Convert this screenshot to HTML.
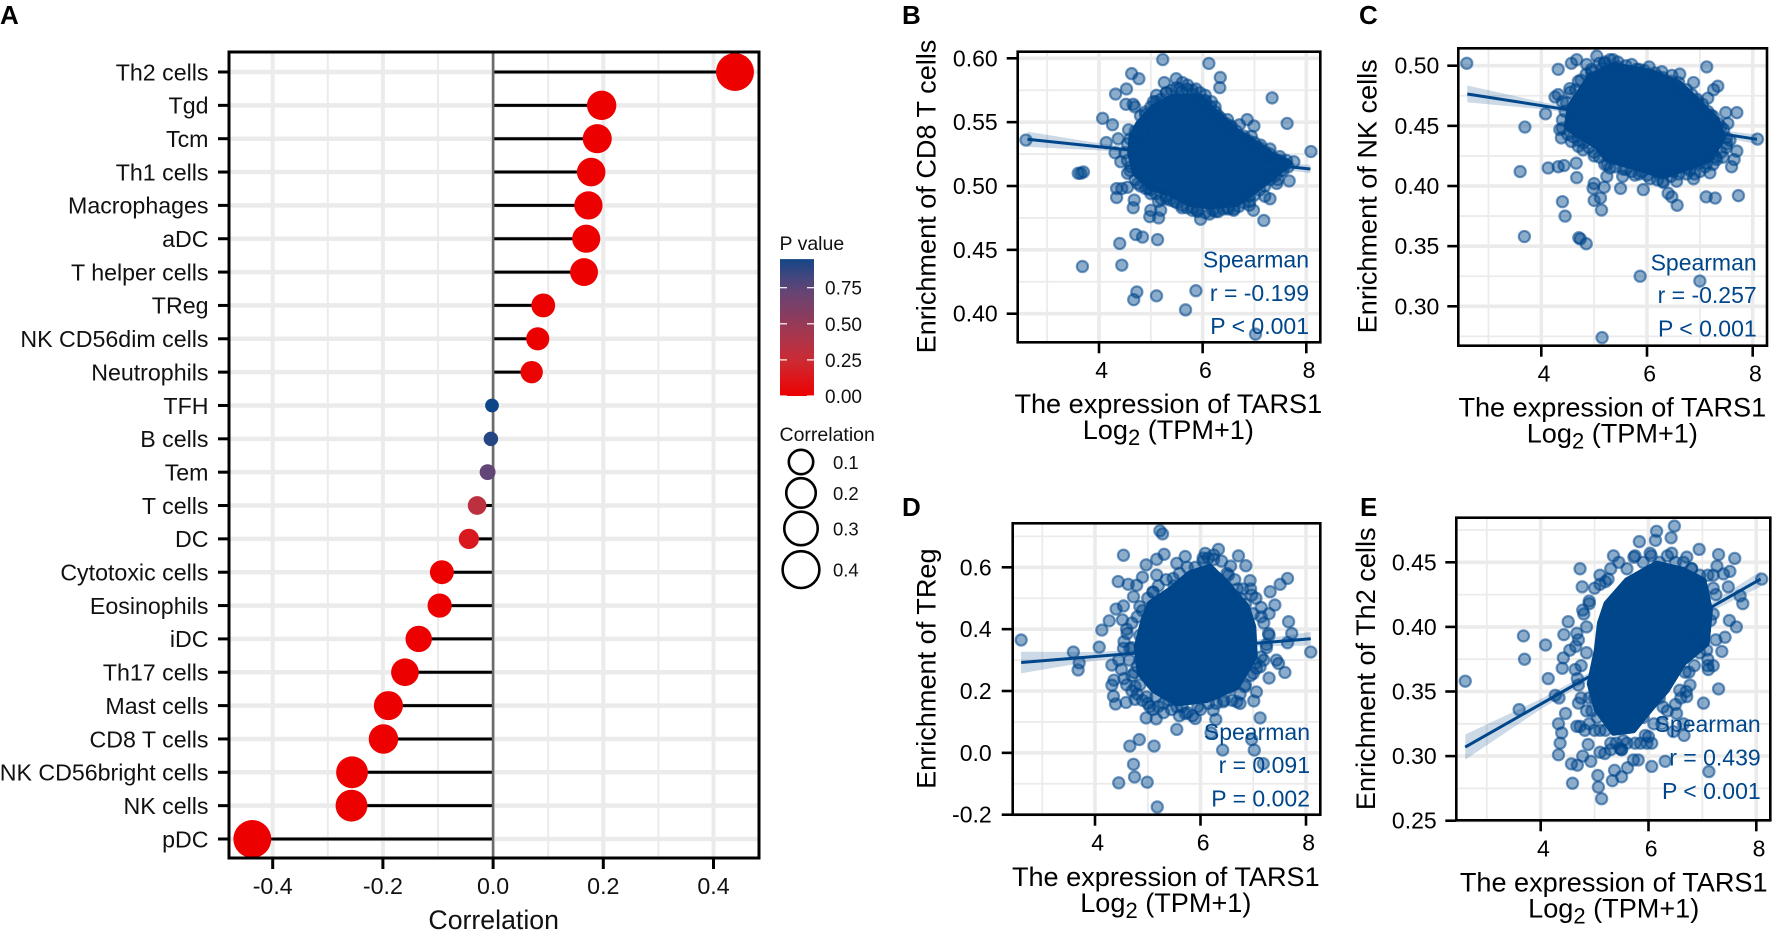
<!DOCTYPE html>
<html lang="en">
<head>
<meta charset="utf-8">
<title>TARS1 immune infiltration correlation figure</title>
<style>
html,body{margin:0;padding:0;background:#fff;width:1772px;height:930px;overflow:hidden}
svg{display:block;font-family:"Liberation Sans",Arial,sans-serif}
</style>
</head>
<body>
<svg id="figure" xmlns="http://www.w3.org/2000/svg" width="1772" height="930" viewBox="0 0 1772 930"></svg>
<script>
// ---------- Panel A data ----------
const cellTypes = ["Th2 cells","Tgd","Tcm","Th1 cells","Macrophages","aDC","T helper cells","TReg","NK CD56dim cells","Neutrophils","TFH","B cells","Tem","T cells","DC","Cytotoxic cells","Eosinophils","iDC","Th17 cells","Mast cells","CD8 T cells","NK CD56bright cells","NK cells","pDC"];
const correlations = [0.439,0.197,0.189,0.178,0.173,0.169,0.165,0.091,0.081,0.070,-0.002,-0.004,-0.010,-0.029,-0.044,-0.093,-0.097,-0.135,-0.160,-0.190,-0.199,-0.256,-0.257,-0.437];
const pValues = [0,0,0,0,0,0,0,0.002,0.005,0.02,0.96,0.90,0.74,0.32,0.14,0.001,0.001,0,0,0,0,0,0,0];
const corrTicks = [-0.4,-0.2,0,0.2,0.4];
const corrTickLabels = ["-0.4","-0.2","0.0","0.2","0.4"];
const corrMinorTicks = [-0.3,-0.1,0.1,0.3];
const pLegendTicks = [0,0.25,0.5,0.75];
const pLegendLabels = ["0.00","0.25","0.50","0.75"];
const sizeLegendValues = [0.1,0.2,0.3,0.4];
const sizeLegendLabels = ["0.1","0.2","0.3","0.4"];

// ---------- Panel B data (CD8 T cells) ----------
const bPointsX = [2.59,3.60,3.70,3.65,3.68,4.44,4.40,4.71,4.84,5.13,4.73,4.67,5.11,5.87,5.67,7.02,5.23,6.12,6.34,6.33,7.34,7.63,8.09,7.67,4.63,4.77,4.53,4.32,4.52,4.66,4.69,4.07,4.26,4.14,4.31,4.37,4.57,4.42,4.55,4.34,4.44,4.55,4.34,4.68,4.66,4.98,5.00,5.15,5.19,5.15,5.26,5.49,5.61,5.71,5.87,6.05,5.11,6.17,6.24,6.48,6.71,6.86,6.99,6.94,7.12,7.30,7.49,7.62,7.76,7.65,7.43,7.30,7.18,6.98,6.91,6.48,6.40,6.13,5.96,5.82,5.50,5.37,4.95,4.85,4.70,4.62,4.75,4.90,5.05,5.30,5.55,5.80,6.05,6.30,6.55,6.80,7.05,7.25,7.45,7.55,7.20,6.90,6.60,6.25,5.90,5.60,5.30,5.00];
const bPointsY = [0.536,0.510,0.511,0.510,0.437,0.438,0.455,0.462,0.460,0.458,0.417,0.411,0.414,0.418,0.403,0.384,0.599,0.596,0.585,0.577,0.569,0.549,0.527,0.504,0.588,0.584,0.576,0.572,0.564,0.564,0.562,0.553,0.548,0.534,0.526,0.537,0.544,0.519,0.510,0.498,0.498,0.499,0.491,0.489,0.483,0.476,0.481,0.475,0.481,0.488,0.581,0.584,0.581,0.579,0.576,0.571,0.571,0.566,0.562,0.552,0.548,0.552,0.547,0.539,0.532,0.529,0.523,0.520,0.519,0.515,0.502,0.490,0.473,0.481,0.488,0.483,0.482,0.478,0.474,0.483,0.487,0.489,0.498,0.541,0.530,0.515,0.502,0.556,0.566,0.573,0.576,0.575,0.567,0.555,0.546,0.537,0.530,0.515,0.505,0.512,0.492,0.485,0.481,0.480,0.480,0.483,0.490,0.494];
const bEdgeX = [4.80,4.90,5.00,5.10,5.20,5.30,5.40,5.50,5.60,5.70,5.80,5.95,6.05,6.15,6.25,6.35,6.45,6.55,6.65,6.80,6.90,7.00,7.10,7.20,7.30,7.40,7.50,7.60,7.50,7.40,7.30,7.20,7.10,7.00,6.90,6.80,6.70,6.60,6.50,6.30,6.20,6.05,5.90,5.80,5.70,5.60,5.45,5.30,5.20,5.10,5.00,4.90,4.80,4.70,4.60,4.55,4.50,4.55,4.60,4.70];
const bEdgeY = [0.555,0.558,0.562,0.566,0.568,0.573,0.575,0.577,0.574,0.576,0.572,0.573,0.566,0.562,0.558,0.553,0.549,0.547,0.543,0.539,0.535,0.534,0.530,0.527,0.525,0.521,0.520,0.517,0.512,0.508,0.505,0.500,0.497,0.493,0.492,0.487,0.484,0.482,0.482,0.480,0.481,0.479,0.481,0.481,0.483,0.485,0.488,0.492,0.490,0.494,0.497,0.498,0.500,0.505,0.512,0.520,0.526,0.533,0.537,0.543];
const bCoreX = [4.76,5.05,5.43,5.95,6.27,6.66,7.04,7.36,7.68,7.36,7.04,6.66,6.14,5.76,5.37,4.98,4.69,4.60,4.63];
const bCoreY = [0.549,0.562,0.570,0.570,0.557,0.543,0.533,0.524,0.518,0.507,0.497,0.486,0.484,0.486,0.494,0.499,0.510,0.526,0.539];
const bLineX = [2.62,8.08];
const bLineY = [0.5366,0.5133];
const bBandX = [2.62,4,5.8,7,8.08];
const bBandHi = [0.5426,0.5335,0.5245,0.5200,0.5165];
const bBandLo = [0.5306,0.5279,0.5215,0.5158,0.5100];
const bYTicks = [0.40,0.45,0.50,0.55,0.60];
const bYLabels = ["0.40","0.45","0.50","0.55","0.60"];
const bYMinor = [0.425,0.475,0.525,0.575];

// ---------- Panel C data (NK cells) ----------
const cPointsX = [2.59,3.60,3.69,3.68,4.08,4.13,4.32,4.43,4.66,4.67,4.40,4.45,4.71,4.74,4.85,5.00,4.98,5.19,5.00,5.12,5.14,5.87,7.00,5.15,7.13,7.34,7.26,7.15,7.49,7.70,7.53,8.09,7.70,7.65,7.60,7.73,7.29,7.12,6.57,6.47,6.40,6.56,6.31,6.06,5.93,5.50,5.54,5.77,5.24,4.32,4.57,4.67,4.86,5.05,5.36,5.71,6.04,6.28,6.47,6.62,6.88,4.26,4.32,4.54,4.70,4.35,4.38,4.57,4.79,4.70,4.48,7.19,6.88,7.32,7.51,7.44,7.13,7.57,6.81,4.60,4.75,4.95,5.15,5.30,5.00,5.25,5.60,5.90,6.20,6.50,6.75,7.00,7.25,7.40,7.20,6.95,6.60,6.20,5.85,5.45,5.20,4.95];
const cPointsY = [0.502,0.412,0.449,0.358,0.460,0.415,0.416,0.417,0.419,0.407,0.387,0.375,0.357,0.356,0.352,0.402,0.398,0.399,0.388,0.390,0.380,0.325,0.321,0.274,0.499,0.483,0.480,0.473,0.461,0.461,0.452,0.439,0.429,0.422,0.416,0.392,0.390,0.391,0.384,0.391,0.394,0.404,0.403,0.406,0.397,0.398,0.408,0.409,0.408,0.497,0.502,0.505,0.501,0.508,0.505,0.501,0.499,0.495,0.492,0.493,0.486,0.474,0.476,0.481,0.487,0.447,0.440,0.437,0.430,0.433,0.469,0.411,0.406,0.422,0.435,0.424,0.419,0.438,0.413,0.455,0.470,0.490,0.498,0.440,0.425,0.418,0.414,0.412,0.411,0.412,0.415,0.419,0.428,0.449,0.459,0.470,0.480,0.491,0.497,0.499,0.502,0.495];
const cEdgeX = [4.55,4.65,4.75,4.85,4.95,5.10,5.20,5.30,5.45,5.60,5.80,5.95,6.15,6.30,6.45,6.60,6.75,6.85,6.95,7.05,7.15,7.25,7.35,7.45,7.50,7.50,7.40,7.30,7.25,7.10,7.00,6.90,6.75,6.60,6.45,6.30,6.20,6.00,5.85,5.70,5.55,5.40,5.30,5.20,5.10,5.00,4.90,4.80,4.70,4.60,4.50,4.40,4.40,4.45,4.40];
const cEdgeY = [0.478,0.480,0.488,0.493,0.497,0.502,0.503,0.505,0.503,0.500,0.497,0.496,0.494,0.490,0.487,0.486,0.480,0.476,0.472,0.468,0.462,0.458,0.452,0.447,0.440,0.432,0.428,0.424,0.418,0.416,0.412,0.410,0.410,0.410,0.408,0.404,0.405,0.409,0.410,0.412,0.414,0.416,0.415,0.418,0.424,0.428,0.432,0.436,0.438,0.441,0.443,0.448,0.455,0.462,0.470];
const cCoreX = [4.92,5.36,6.06,6.62,6.94,7.32,7.44,7.19,6.81,6.31,5.74,5.24,5.05,4.73,4.48,4.54];
const cCoreY = [0.491,0.5005,0.495,0.485,0.4715,0.455,0.441,0.422,0.416,0.408,0.416,0.422,0.433,0.441,0.449,0.466];
const cLineX = [2.60,8.08];
const cLineY = [0.4765,0.4388];
const cBandX = [2.60,4,5.8,7,8.08];
const cBandHi = [0.4835,0.4699,0.4560,0.4482,0.4428];
const cBandLo = [0.4695,0.4639,0.4530,0.4442,0.4348];
const cYTicks = [0.30,0.35,0.40,0.45,0.50];
const cYLabels = ["0.30","0.35","0.40","0.45","0.50"];
const cYMinor = [0.275,0.325,0.375,0.425,0.475];

// ---------- Panel D data (TReg) ----------
const dPointsX = [2.60,3.59,3.70,3.68,4.08,4.13,4.27,4.40,4.54,4.54,4.44,4.63,4.79,4.90,4.97,5.17,5.31,5.23,5.28,4.73,4.85,4.52,4.61,4.54,4.66,4.32,4.36,4.32,4.35,4.39,4.59,4.76,4.76,4.97,5.16,5.55,4.84,4.66,5.12,4.73,4.75,4.45,4.99,5.18,6.20,6.42,6.97,7.02,7.19,7.13,7.06,7.01,6.75,6.43,6.24,6.29,5.90,5.71,7.30,7.60,7.48,8.09,7.65,7.73,7.67,7.41,7.32,7.51,7.65,6.94,6.86,6.72,6.57,6.34,6.09,5.71,5.55,6.53,6.97,5.48,5.17,7.29,7.06,7.13,7.00,7.44,6.84,6.69,4.98,5.04,5.30,5.55,4.85,4.95,5.10,6.05,6.25,6.70,6.85,7.15,7.25,7.20,4.70,4.80];
const dPointsY = [0.365,0.326,0.291,0.268,0.342,0.397,0.427,0.465,0.475,0.639,0.554,0.545,0.542,0.568,0.608,0.626,0.642,0.718,0.708,0.505,0.473,0.430,0.386,0.338,0.338,0.284,0.235,0.219,0.183,0.158,0.163,0.173,0.214,0.113,0.110,0.076,0.043,0.022,0.022,-0.037,-0.078,-0.097,-0.095,-0.175,0.065,0.009,0.043,0.009,-0.035,0.113,0.197,0.168,0.160,0.165,0.138,0.108,0.111,0.127,0.242,0.260,0.289,0.326,0.356,0.386,0.424,0.478,0.521,0.545,0.564,0.557,0.605,0.637,0.604,0.658,0.645,0.635,0.613,0.575,0.510,0.564,0.575,0.386,0.273,0.278,0.257,0.300,0.214,0.165,0.181,0.149,0.160,0.149,0.300,0.400,0.520,0.630,0.625,0.530,0.480,0.440,0.350,0.300,0.250,0.280];
const dEdgeX = [4.45,4.50,4.55,4.60,4.70,4.80,4.90,5.00,5.10,5.20,5.30,5.45,5.60,5.75,5.85,6.00,6.15,6.30,6.45,6.60,6.75,6.85,6.95,7.05,7.15,7.25,7.30,7.20,7.30,7.15,7.05,6.95,6.80,6.65,6.50,6.40,6.25,6.15,6.05,5.90,5.75,5.60,5.50,5.35,5.20,5.10,5.00,4.90,4.80,4.70,4.60,4.55,4.65,4.70,4.75,4.85,4.95,4.85,5.15,5.40,5.65,5.95,6.25,6.55,6.90,7.00,6.75,6.35];
const dEdgeY = [0.30,0.27,0.24,0.22,0.20,0.19,0.17,0.16,0.14,0.15,0.13,0.14,0.12,0.13,0.12,0.14,0.16,0.16,0.17,0.17,0.19,0.22,0.25,0.29,0.31,0.34,0.38,0.42,0.45,0.47,0.50,0.53,0.53,0.56,0.58,0.62,0.64,0.63,0.62,0.60,0.60,0.58,0.54,0.56,0.54,0.52,0.50,0.46,0.44,0.42,0.40,0.36,0.30,0.34,0.26,0.22,0.28,0.38,0.18,0.17,0.15,0.15,0.19,0.21,0.30,0.45,0.50,0.56];
const dCoreX = [5.04,5.42,5.80,6.18,6.50,6.88,7.00,7.03,6.69,6.12,5.55,5.11,4.85,4.79,4.92];
const dCoreY = [0.483,0.527,0.581,0.602,0.548,0.473,0.408,0.311,0.214,0.171,0.160,0.203,0.257,0.343,0.429];
const dLineX = [2.60,8.09];
const dLineY = [0.292,0.369];
const dBandX = [2.60,4,5.8,7,8.09];
const dBandHi = [0.327,0.326,0.343,0.364,0.391];
const dBandLo = [0.257,0.298,0.331,0.344,0.347];
const dYTicks = [-0.2,0,0.2,0.4,0.6];
const dYLabels = ["-0.2","0.0","0.2","0.4","0.6"];
const dYMinor = [-0.1,0.1,0.3,0.5,0.7];

// ---------- Panel E data (Th2 cells) ----------
const ePointsX = [2.60,3.60,3.68,3.70,4.09,4.14,4.27,4.34,4.46,4.33,4.39,4.36,4.33,4.57,4.68,4.59,4.78,4.93,5.06,5.07,5.13,5.33,5.50,5.61,5.37,5.19,5.10,6.06,5.81,5.72,6.31,7.12,7.02,7.30,7.11,7.36,7.42,7.63,7.50,7.75,7.70,8.10,7.48,7.39,7.51,7.60,7.27,7.30,6.94,6.71,6.48,6.42,6.15,6.13,5.83,6.43,6.03,5.73,5.35,5.25,5.10,4.73,4.77,4.90,4.78,4.85,4.51,4.43,4.67,4.54,4.42,4.40,4.64,4.68,4.70,4.67,4.73,4.82,4.88,6.66,6.65,6.46,6.71,6.58,6.77,6.68,5.94,6.06,5.97,5.53,5.47,6.27,6.52,7.08,5.05,5.30,5.50,5.00,4.90,5.90,6.20,6.55,6.85,7.15,7.25,7.20,7.10,6.95,6.80];
const ePointsY = [0.358,0.336,0.393,0.375,0.386,0.360,0.347,0.345,0.333,0.325,0.318,0.310,0.301,0.294,0.293,0.279,0.300,0.296,0.285,0.276,0.267,0.281,0.284,0.291,0.289,0.302,0.303,0.292,0.297,0.297,0.296,0.288,0.341,0.352,0.367,0.381,0.392,0.400,0.405,0.418,0.424,0.437,0.431,0.441,0.443,0.453,0.447,0.456,0.460,0.454,0.478,0.469,0.474,0.467,0.466,0.457,0.457,0.454,0.455,0.437,0.433,0.445,0.431,0.418,0.413,0.400,0.404,0.394,0.395,0.382,0.376,0.368,0.367,0.360,0.341,0.323,0.323,0.320,0.309,0.316,0.325,0.319,0.346,0.351,0.355,0.365,0.316,0.310,0.310,0.312,0.306,0.338,0.333,0.382,0.330,0.310,0.305,0.345,0.345,0.330,0.345,0.395,0.395,0.405,0.425,0.440,0.375,0.390,0.445];
const eEdgeX = [4.70,4.80,4.85,4.90,5.00,5.10,5.20,5.30,5.45,5.60,5.75,5.90,6.05,6.20,6.35,6.50,6.65,6.80,6.95,7.10,7.20,7.20,7.25,7.20,7.10,6.95,6.85,6.75,6.70,6.60,6.50,6.35,6.25,6.10,6.00,5.85,5.75,5.60,5.50,5.40,5.30,5.20,5.10,5.00,4.90,4.85,4.75,4.70,4.75,4.95,4.65];
const eEdgeY = [0.390,0.410,0.380,0.420,0.430,0.440,0.435,0.445,0.450,0.445,0.455,0.450,0.455,0.450,0.455,0.450,0.450,0.445,0.440,0.440,0.430,0.410,0.390,0.370,0.370,0.380,0.370,0.365,0.350,0.345,0.340,0.335,0.325,0.325,0.315,0.310,0.310,0.310,0.305,0.310,0.305,0.320,0.320,0.320,0.325,0.335,0.345,0.355,0.370,0.335,0.385];
const eCoreX = [5.22,5.60,6.15,6.65,7.02,7.14,7.08,6.65,6.34,6.03,5.72,5.35,5.04,4.91,5.04,5.10];
const eCoreY = [0.418,0.436,0.449,0.444,0.436,0.413,0.387,0.372,0.351,0.336,0.320,0.318,0.336,0.356,0.382,0.403];
const eLineX = [2.60,8.08];
const eLineY = [0.307,0.437];
const eBandX = [2.60,4,5.8,7,8.08];
const eBandHi = [0.3167,0.3442,0.3849,0.4144,0.4430];
const eBandLo = [0.2973,0.3362,0.3809,0.4084,0.4310];
const eYTicks = [0.25,0.30,0.35,0.40,0.45];
const eYLabels = ["0.25","0.30","0.35","0.40","0.45"];
const eYMinor = [0.275,0.325,0.375,0.425,0.475];

// ---------- Shared scatter axis values ----------
const exprTicks = [4,6,8];
const exprTickLabels = ["4","6","8"];
const exprMinor = [3,5,7];

const NS = "http://www.w3.org/2000/svg";
const svg = document.getElementById("figure");
const BLUE = "#00468B";
const GRID = "#ebebeb";

function add(parent, tag, attrs, txt) {
  const el = document.createElementNS(NS, tag);
  for (const k in attrs) el.setAttribute(k, attrs[k]);
  if (txt !== undefined) el.textContent = txt;
  parent.appendChild(el);
  return el;
}
function linear(d0, d1, r0, r1) {
  return v => r0 + (v - d0) * (r1 - r0) / (d1 - d0);
}
function hex(c){return [parseInt(c.slice(1,3),16),parseInt(c.slice(3,5),16),parseInt(c.slice(5,7),16)];}
const pRamp = ["#ED0000","#CB2C35","#973A58","#5F4678","#00468B"];
function pColor(p) {
  const t = Math.max(0, Math.min(0.9999, p)) * 4;
  const i = Math.floor(t), f = t - i;
  const a = hex(pRamp[i]), b = hex(pRamp[i + 1]);
  return "rgb(" + a.map((v, k) => Math.round(v + (b[k] - v) * f)).join(",") + ")";
}
function sizeRadius(c) { return 6 + 19.6 * Math.sqrt(Math.abs(c)); }

// ---------- Panel letters ----------
const panelLetters = [["A",0,24],["B",902,24],["C",1359,24],["D",902,516],["E",1360,516]];
panelLetters.forEach(l => {
  const el = add(svg, "text", {x:l[1], y:l[2], "font-size":26, "font-weight":"bold", fill:"#000"}, l[0]);
  
  
});

// ---------- Panel A ----------
(function () {
  const L = 229, R = 759, T = 52, B = 858;
  const g = add(svg, "g", {});
  
  
  const x = linear(-0.4, 0.4, 272.7, 713.5);
  const y = linear(0, cellTypes.length - 1, 72, 839);

  corrMinorTicks.forEach(v => {
    const el = add(g, "line", {x1:x(v), x2:x(v), y1:T, y2:B, stroke:GRID, "stroke-width":2});
    
    
  });
  corrTicks.forEach(v => {
    const el = add(g, "line", {x1:x(v), x2:x(v), y1:T, y2:B, stroke:GRID, "stroke-width":4});
    
    
  });
  cellTypes.forEach((n, i) => {
    const el = add(g, "line", {x1:L, x2:R, y1:y(i), y2:y(i), stroke:GRID, "stroke-width":4.5});
    
    
  });
  cellTypes.forEach((n, i) => {
    const seg = add(g, "line", {x1:x(0), x2:x(correlations[i]), y1:y(i), y2:y(i), stroke:"#000", "stroke-width":3});
    
    
  });
  const zero = add(g, "line", {x1:x(0), x2:x(0), y1:T, y2:B, stroke:"#6b6b6b", "stroke-width":2.5});
  
  
  cellTypes.forEach((n, i) => {
    const dot = add(g, "circle", {cx:x(correlations[i]), cy:y(i), r:sizeRadius(correlations[i]), fill:pColor(pValues[i])});
    
    
    const tick = add(g, "line", {x1:L - 11, x2:L, y1:y(i), y2:y(i), stroke:"#000", "stroke-width":3});
    
    
    const lab = add(g, "text", {x:208.5, y:y(i) + 8.3, "text-anchor":"end", "font-size":23.2, fill:"#111"}, n);
    
    
  });
  corrTicks.forEach((v, i) => {
    const tick = add(g, "line", {x1:x(v), x2:x(v), y1:B, y2:B + 11, stroke:"#000", "stroke-width":3});
    
    
    const lab = add(g, "text", {x:x(v), y:894, "text-anchor":"middle", "font-size":23.2, fill:"#111"}, corrTickLabels[i]);
    
    
  });
  const border = add(g, "rect", {x:L, y:T, width:R - L, height:B - T, fill:"none", stroke:"#000", "stroke-width":3});
  
  
  const title = add(g, "text", {x:493.7, y:929, "text-anchor":"middle", "font-size":26.7, fill:"#111"}, "Correlation");
  
  
})();

// ---------- Legends ----------
(function () {
  const g = add(svg, "g", {});
  
  
  const defs = add(g, "defs", {});
  const grad = add(defs, "linearGradient", {id:"pGrad", x1:0, x2:0, y1:1, y2:0});
  const topP = 0.948;
  [0,0.125,0.25,0.375,0.5,0.625,0.75,0.875,1].forEach(f => {
    add(grad, "stop", {offset:f, "stop-color":pColor(f * topP)});
  });
  const py = linear(0, 0.75, 396, 287.7);
  const t1 = add(g, "text", {x:779.5, y:250, "font-size":19.5, fill:"#111"}, "P value");
  
  
  const bar = add(g, "rect", {x:780, y:py(topP), width:34, height:py(0) - py(topP), fill:"url(#pGrad)"});
  
  
  pLegendTicks.forEach((v, i) => {
    const a = add(g, "line", {x1:780, x2:787, y1:py(v), y2:py(v), stroke:"#fff", "stroke-width":1.2});
    
    
    const b = add(g, "line", {x1:807, x2:814, y1:py(v), y2:py(v), stroke:"#fff", "stroke-width":1.2});
    
    
    const lab = add(g, "text", {x:825, y:py(v) + 7, "font-size":19, fill:"#111"}, pLegendLabels[i]);
    
    
  });
  const t2 = add(g, "text", {x:779.5, y:441, "font-size":19.5, fill:"#111"}, "Correlation");
  
  
  let cy = 462;
  const keyGaps = [4, 4, 6];
  sizeLegendValues.forEach((v, i) => {
    const r = sizeRadius(v);
    if (i > 0) cy += sizeRadius(sizeLegendValues[i - 1]) + r + keyGaps[i - 1];
    const c = add(g, "circle", {cx:801, cy:cy, r:r, fill:"none", stroke:"#000", "stroke-width":2.6});
    
    
    const lab = add(g, "text", {x:833, y:cy + 7, "font-size":18.5, fill:"#111"}, sizeLegendLabels[i]);
    
    
  });
})();

// ---------- Scatter panels ----------
function drawScatter(p) {
  const g = add(svg, "g", {});
  
  
  const x = linear(4, 8, p.x4, p.x8);
  const y = linear(p.yTicks[0], p.yTicks[4], p.yLow, p.yHigh);

  p.xMinor.forEach(v => {
    const el = add(g, "line", {x1:x(v), x2:x(v), y1:p.T, y2:p.B, stroke:GRID, "stroke-width":1.8});
    
    
  });
  p.yMinor.forEach(v => {
    if (y(v) < p.T || y(v) > p.B) return;
    const el = add(g, "line", {x1:p.L, x2:p.R, y1:y(v), y2:y(v), stroke:GRID, "stroke-width":1.8});
    
    
  });
  p.xTicks.forEach(v => {
    const el = add(g, "line", {x1:x(v), x2:x(v), y1:p.T, y2:p.B, stroke:GRID, "stroke-width":3.6});
    
    
  });
  p.yTicks.forEach(v => {
    const el = add(g, "line", {x1:p.L, x2:p.R, y1:y(v), y2:y(v), stroke:GRID, "stroke-width":3.6});
    
    
  });

  const upper = p.bandX.map((v, i) => x(v).toFixed(1) + "," + y(p.bandHi[i]).toFixed(1));
  const lower = p.bandX.map((v, i) => x(v).toFixed(1) + "," + y(p.bandLo[i]).toFixed(1)).reverse();
  const band = add(g, "polygon", {points:upper.concat(lower).join(" "), fill:BLUE, "fill-opacity":0.2});
  
  

  const core = add(g, "polygon", {points:p.coreX.map((v, i) => x(v).toFixed(1) + "," + y(p.coreY[i]).toFixed(1)).join(" "), fill:BLUE, stroke:BLUE, "stroke-width":6, "stroke-linejoin":"round"});
  
  

  p.ptsX.forEach((v, i) => {
    const c = add(g, "circle", {cx:x(v), cy:y(p.ptsY[i]), r:5.6, fill:BLUE, "fill-opacity":0.45, stroke:BLUE, "stroke-opacity":0.55, "stroke-width":2.2});
    
    
  });

  const fit = add(g, "line", {x1:x(p.lineX[0]), y1:y(p.lineY[0]), x2:x(p.lineX[1]), y2:y(p.lineY[1]), stroke:BLUE, "stroke-width":3});
  
  

  const border = add(g, "rect", {x:p.L, y:p.T, width:p.R - p.L, height:p.B - p.T, fill:"none", stroke:"#000", "stroke-width":2.6});
  
  

  p.xTicks.forEach((v, i) => {
    const t = add(g, "line", {x1:x(v), x2:x(v), y1:p.B, y2:p.B + 11, stroke:"#000", "stroke-width":2.6});
    
    
    const l = add(g, "text", {x:x(v) + 2.7, y:p.xLabelY, "text-anchor":"middle", "font-size":23, fill:"#000"}, p.xLabels[i]);
    
    
  });
  p.yTicks.forEach((v, i) => {
    const t = add(g, "line", {x1:p.L - 11, x2:p.L, y1:y(v), y2:y(v), stroke:"#000", "stroke-width":2.6});
    
    
    const l = add(g, "text", {x:p.yLabelX, y:y(v) + 8, "text-anchor":"end", "font-size":23, fill:"#000"}, p.yLabels[i]);
    
    
  });

  const yt = add(g, "text", {transform:"translate(" + p.yTitleX + "," + p.yTitleY + ") rotate(-90)", "text-anchor":"middle", "font-size":27.1, fill:"#000"}, p.yTitle);
  
  
  const xt = add(g, "text", {x:p.xTitleX, y:p.xTitleY, "text-anchor":"middle", "font-size":27.1, fill:"#000"}, "The expression of TARS1");
  
  
  const xu = add(g, "text", {x:p.xTitleX, y:p.xTitleY + 26, "text-anchor":"middle", "font-size":27.1, fill:"#000"});
  
  
  add(xu, "tspan", {}, "Log");
  add(xu, "tspan", {dy:6, "font-size":22}, "2");
  add(xu, "tspan", {dy:-6}, " (TPM+1)");

  p.notes.forEach((s, i) => {
    const n = add(g, "text", {x:p.noteX, y:p.noteY[i], "text-anchor":"end", "font-size":23, fill:BLUE}, s);
    
    
  });
}

drawScatter({name:"scatter-panel-cd8", L:1017.7, R:1320.3, T:51.7, B:342.3, x4:1099, x8:1306.3, yLow:313.7, yHigh:58.3,
  xTicks:exprTicks, xLabels:exprTickLabels, xMinor:exprMinor, yTicks:bYTicks, yLabels:bYLabels, yMinor:bYMinor,
  ptsX:bPointsX.concat(bEdgeX), ptsY:bPointsY.concat(bEdgeY), coreX:bCoreX, coreY:bCoreY, lineX:bLineX, lineY:bLineY, bandX:bBandX, bandHi:bBandHi, bandLo:bBandLo,
  xLabelY:378, yLabelX:997.7, yTitle:"Enrichment of CD8 T cells", yTitleX:935.7, yTitleY:196.5, xTitleX:1168.3, xTitleY:413,
  notes:["Spearman","r = -0.199","P < 0.001"], noteX:1309, noteY:[267.7,301,334]});

drawScatter({name:"scatter-panel-nk", L:1458.3, R:1767, T:48.3, B:345.7, x4:1541.3, x8:1752.7, yLow:306.3, yHigh:65.7,
  xTicks:exprTicks, xLabels:exprTickLabels, xMinor:exprMinor, yTicks:cYTicks, yLabels:cYLabels, yMinor:cYMinor,
  ptsX:cPointsX.concat(cEdgeX), ptsY:cPointsY.concat(cEdgeY), coreX:cCoreX, coreY:cCoreY, lineX:cLineX, lineY:cLineY, bandX:cBandX, bandHi:cBandHi, bandLo:cBandLo,
  xLabelY:381.7, yLabelX:1439.3, yTitle:"Enrichment of NK cells", yTitleX:1376.7, yTitleY:196.3, xTitleX:1612.3, xTitleY:416.7,
  notes:["Spearman","r = -0.257","P < 0.001"], noteX:1756.7, noteY:[270.7,303,336.7]});

drawScatter({name:"scatter-panel-treg", L:1012.7, R:1320.3, T:523.3, B:814.7, x4:1095, x8:1306, yLow:814.7, yHigh:567.3,
  xTicks:exprTicks, xLabels:exprTickLabels, xMinor:exprMinor, yTicks:dYTicks, yLabels:dYLabels, yMinor:dYMinor,
  ptsX:dPointsX.concat(dEdgeX), ptsY:dPointsY.concat(dEdgeY), coreX:dCoreX, coreY:dCoreY, lineX:dLineX, lineY:dLineY, bandX:dBandX, bandHi:dBandHi, bandLo:dBandLo,
  xLabelY:850.7, yLabelX:991.7, yTitle:"Enrichment of TReg", yTitleX:935.7, yTitleY:668.7, xTitleX:1165.8, xTitleY:886,
  notes:["Spearman","r = 0.091","P = 0.002"], noteX:1310, noteY:[740,773,806.7]});

drawScatter({name:"scatter-panel-th2", L:1456.3, R:1770.3, T:517.7, B:820.3, x4:1540.7, x8:1756.3, yLow:820.7, yHigh:562.3,
  xTicks:exprTicks, xLabels:exprTickLabels, xMinor:exprMinor, yTicks:eYTicks, yLabels:eYLabels, yMinor:eYMinor,
  ptsX:ePointsX.concat(eEdgeX), ptsY:ePointsY.concat(eEdgeY), coreX:eCoreX, coreY:eCoreY, lineX:eLineX, lineY:eLineY, bandX:eBandX, bandHi:eBandHi, bandLo:eBandLo,
  xLabelY:856.7, yLabelX:1436.7, yTitle:"Enrichment of Th2 cells", yTitleX:1375, yTitleY:668.8, xTitleX:1613.7, xTitleY:891.7,
  notes:["Spearman","r = 0.439","P < 0.001"], noteX:1760.7, noteY:[732,765.7,799]});
</script>
</body>
</html>
